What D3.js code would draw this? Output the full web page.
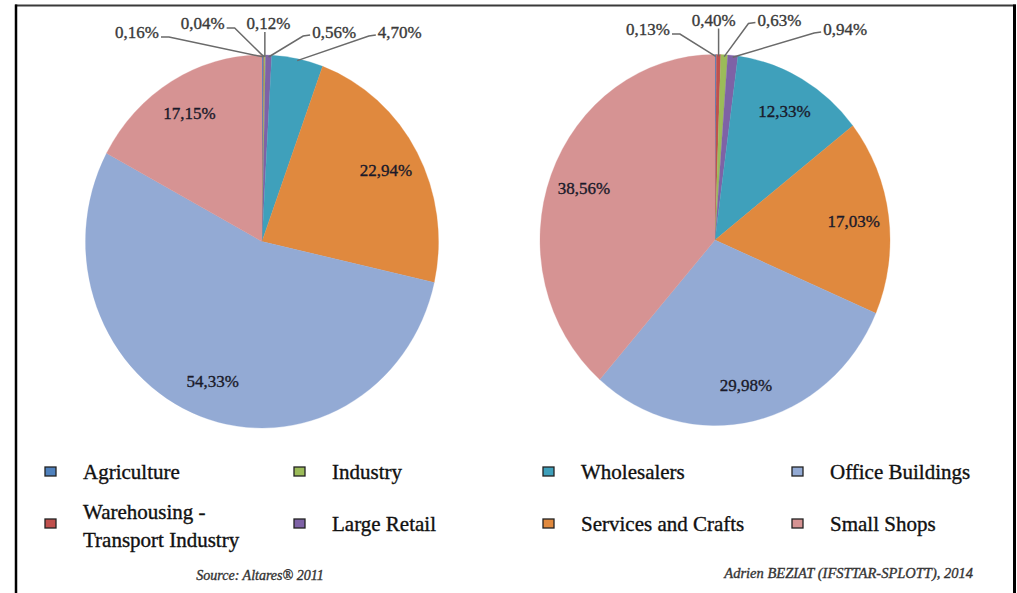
<!DOCTYPE html>
<html>
<head>
<meta charset="utf-8">
<script src="https://cdn.jsdelivr.net/npm/d3@7/dist/d3.min.js"></script>
<style>
  html, body { margin: 0; padding: 0; background: #fff; }
  svg { display: block; }
  text { font-family: "Liberation Serif", "Times New Roman", "DejaVu Serif", serif; }
</style>
</head>
<body>
<svg id="chart" width="1017" height="593"></svg>
<script>
// ---- data ----
const categories = [
  "Agriculture",
  "Warehousing - Transport Industry",
  "Industry",
  "Large Retail",
  "Wholesalers",
  "Services and Crafts",
  "Office Buildings",
  "Small Shops"
];
// left pie (shares, %)
const leftShares = [0.16, 0.04, 0.12, 0.56, 4.70, 22.94, 54.33, 17.15];
// right pie (shares, %)
const rightShares = [0.13, 0.40, 0.63, 0.94, 12.33, 17.03, 29.98, 38.56];
const legendLabels = [
  ["Agriculture"],
  ["Warehousing -", "Transport Industry"],
  ["Industry"],
  ["Large Retail"],
  ["Wholesalers"],
  ["Services and Crafts"],
  ["Office Buildings"],
  ["Small Shops"]
];
const sourceText = "Source: Altares\u00AE 2011";
const authorText = "Adrien BEZIAT (IFSTTAR-SPLOTT), 2014";

// ---- styles ----
const palette = ["#4f81bd", "#c0504d", "#9bbb59", "#7e62a6", "#3fa0bb", "#e0893e", "#93aad4", "#d69393"];
const color = d3.scaleOrdinal().domain(categories).range(palette);

const locale = d3.formatLocale({decimal: ",", thousands: " ", grouping: [3], currency: ["", ""]});
const fmt = v => locale.format(".2f")(v) + "%";

const svg = d3.select("#chart");
svg.append("rect").attr("width", 1017).attr("height", 593).attr("fill", "#fff");

// frame
svg.append("line").attr("x1", 15).attr("x2", 1016).attr("y1", 5.5).attr("y2", 5.5)
  .attr("stroke", "#3a3a3a").attr("stroke-width", 2);
svg.append("line").attr("x1", 16).attr("x2", 16).attr("y1", 4.5).attr("y2", 593)
  .attr("stroke", "#000").attr("stroke-width", 2.5);
svg.append("line").attr("x1", 1014.5).attr("x2", 1014.5).attr("y1", 4.5).attr("y2", 593)
  .attr("stroke", "#000").attr("stroke-width", 3);

const pie = d3.pie().sort(null).value(d => d.v);

function heavy(sel, c) {
  return sel.attr("fill", c).attr("stroke", c).attr("stroke-width", 0.35);
}

function drawPie(values, cfg) {
  const data = values.map((v, i) => ({cat: categories[i], v}));
  const arcs = pie(data);
  const rx = cfg.rx, ry = cfg.ry, k = ry / rx;
  const g = svg.append("g").attr("transform", `translate(${cfg.cx},${cfg.cy})`);
  const slices = g.append("g").attr("transform", `scale(1,${k})`);
  const arc = d3.arc().innerRadius(0).outerRadius(rx);
  slices.selectAll("path").data(arcs).join("path")
    .attr("d", arc)
    .attr("fill", d => color(d.data.cat))
    .attr("stroke", d => color(d.data.cat))
    .attr("stroke-width", 0.3);

  // inside labels
  const labelArc = d3.arc().innerRadius(rx * 0.8).outerRadius(rx * 0.8);
  const big = arcs.filter(d => d.data.v >= 5);
  heavy(g.selectAll("text.in").data(big).join("text")
    .attr("class", "in")
    .attr("x", d => labelArc.centroid(d)[0])
    .attr("y", d => labelArc.centroid(d)[1] * k)
    .attr("dy", "0.35em")
    .attr("text-anchor", "middle")
    .attr("font-size", 17), "#1a1a2a")
    .text(d => fmt(d.data.v));

  // outside labels with leader lines
  const small = arcs.filter(d => d.data.v < 5);
  const spacing = 65.7;
  small.forEach((d, i) => {
    const lx = cfg.labelStart + i * spacing;              // relative to centre
    const base = (i === 1 || i === 2) ? cfg.innerBase : cfg.outerBase; // absolute baseline
    const by = base - cfg.cy;
    const t = heavy(g.append("text")
      .attr("x", lx).attr("y", by)
      .attr("text-anchor", "middle")
      .attr("font-size", 17), "#3a3a3a")
      .text(fmt(d.data.v));
    const w = t.node().getComputedTextLength();
    const a = (d.startAngle + d.endAngle) / 2;
    const px = Math.sin(a) * rx * 0.99;
    const py = -Math.cos(a) * ry * 0.99;
    let pts;
    if (Math.abs(lx - px) < 12) {
      pts = [[px, by + 3], [px, py]];
    } else if (lx < px) {
      const sx = lx + w / 2 + 2, sy = by - 1;
      pts = [[sx, sy], [sx + 8, sy], [px, py]];
    } else {
      const sx = lx - w / 2 - 2, sy = by - 3;
      pts = [[sx, sy], [sx - 7, sy + 1], [px, py]];
    }
    g.append("path")
      .attr("d", d3.line()(pts))
      .attr("fill", "none")
      .attr("stroke", "#6a6a6a")
      .attr("stroke-width", 1.5);
  });
}

drawPie(leftShares, {cx: 262, cy: 241.5, rx: 176.5, ry: 186.5, labelStart: -125, innerBase: 29, outerBase: 38});
drawPie(rightShares, {cx: 715, cy: 240, rx: 175, ry: 185.5, labelStart: -67, innerBase: 25.5, outerBase: 35});

// legend
const legend = svg.append("g");
const rowBase = [479, 531];
categories.forEach((c, i) => {
  const col = Math.floor(i / 2), row = i % 2;
  const mx = 45 + col * 249;
  const base = rowBase[row];
  legend.append("rect")
    .attr("x", mx).attr("y", base - 12).attr("width", 11).attr("height", 9)
    .attr("fill", color(c)).attr("stroke", "#222").attr("stroke-width", 1.3);
  const lines = legendLabels[i];
  const t = heavy(legend.append("text").attr("font-size", 21), "#111");
  if (lines.length === 1) {
    t.append("tspan").attr("x", mx + 38).attr("y", base).text(lines[0]);
  } else {
    t.append("tspan").attr("x", mx + 38).attr("y", base - 12).text(lines[0]);
    t.append("tspan").attr("x", mx + 38).attr("y", base + 16).text(lines[1]);
  }
});

heavy(svg.append("text")
  .attr("x", 260).attr("y", 580)
  .attr("text-anchor", "middle")
  .attr("font-style", "italic")
  .attr("font-size", 14), "#333")
  .text(sourceText);

heavy(svg.append("text")
  .attr("x", 973).attr("y", 578)
  .attr("text-anchor", "end")
  .attr("font-style", "italic")
  .attr("font-size", 14.5), "#333")
  .text(authorText);
</script>
</body>
</html>
